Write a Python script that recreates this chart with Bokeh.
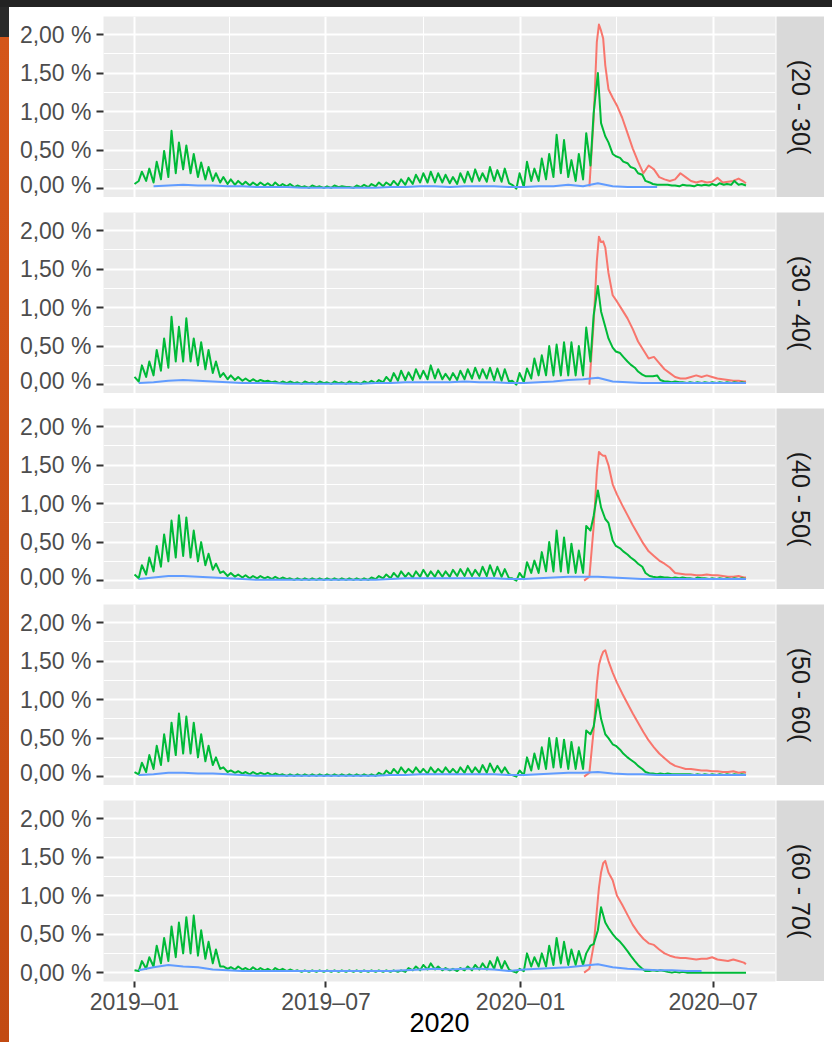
import numpy as np
import pandas as pd
from bokeh.plotting import figure
from bokeh.layouts import column, row
from bokeh.models import FixedTicker, Range1d, Div
from bokeh.embed import file_html
from bokeh.resources import INLINE
from bokeh.core.properties import value

nan = float("nan")

# ---------------- data ----------------
strip_labels = ["(20 - 30(", "(30 - 40(", "(40 - 50(", "(50 - 60(", "(60 - 70("]

y_ticks = [0.0, 0.5, 1.0, 1.5, 2.0]
y_tick_labels = ["0,00 %", "0,50 %", "1,00 %", "1,50 %", "2,00 %"]
y_minor = [0.25, 0.75, 1.25, 1.75]

x_tick_dates = ["2019-01-01", "2019-07-01", "2020-01-01", "2020-07-01"]
x_tick_labels = ["2019\u201301", "2019\u201307", "2020\u201301", "2020\u201307"]
x_minor_dates = ["2019-04-01", "2019-10-01", "2020-04-01"]
x_title = "2020"

# green series: weekly high (start of week) and low (4 days later), 83 weeks from 2019-01-01
green_week_start = "2019-01-01"
green_hi_20_30 = [0.06, 0.22, 0.26, 0.35, 0.49, 0.75, 0.60, 0.56, 0.45, 0.34,
                  0.28, 0.20, 0.15, 0.12, 0.10, 0.09, 0.08, 0.08, 0.07, 0.08,
                  0.06, 0.06, 0.04, 0.03, 0.04, 0.03, 0.03, 0.04, 0.03, 0.02,
                  0.04, 0.05, 0.06, 0.08, 0.08, 0.10, 0.12, 0.14, 0.18, 0.20,
                  0.22, 0.20, 0.18, 0.15, 0.20, 0.22, 0.25, 0.20, 0.28, 0.24,
                  0.26, 0.05, 0.20, 0.35, 0.26, 0.39, 0.45, 0.70, 0.63, 0.37,
                  0.45, 0.72, 0.98, 0.85, 0.60, 0.42, 0.35, 0.28, 0.20, 0.10,
                  0.06, 0.05, 0.05, 0.04, 0.05, 0.04, 0.05, 0.05, 0.06, 0.07,
                  0.06, 0.10, 0.06]
green_lo_20_30 = [0.10, 0.10, 0.08, 0.12, 0.15, 0.20, 0.25, 0.20, 0.15, 0.12,
                  0.10, 0.08, 0.06, 0.05, 0.05, 0.04, 0.04, 0.04, 0.03, 0.03,
                  0.03, 0.02, 0.02, 0.01, 0.02, 0.01, 0.01, 0.02, 0.02, 0.01,
                  0.02, 0.02, 0.03, 0.03, 0.04, 0.04, 0.05, 0.06, 0.08, 0.08,
                  0.08, 0.08, 0.07, 0.06, 0.08, 0.09, 0.10, 0.09, 0.10, 0.09,
                  0.07, 0.00, 0.02, 0.10, 0.10, 0.12, 0.15, 0.20, 0.15, 0.10,
                  0.12, 0.30, 1.50, 0.68, 0.45, 0.40, 0.33, 0.26, 0.18, 0.08,
                  0.05, 0.05, 0.04, 0.03, 0.04, 0.03, 0.04, 0.04, 0.04, 0.05,
                  0.05, 0.05, 0.04]
green_hi_30_40 = [0.10, 0.25, 0.30, 0.45, 0.60, 0.88, 0.75, 0.86, 0.60, 0.55,
                  0.45, 0.30, 0.15, 0.12, 0.10, 0.08, 0.07, 0.06, 0.05, 0.04,
                  0.04, 0.04, 0.03, 0.04, 0.03, 0.04, 0.03, 0.04, 0.03, 0.04,
                  0.03, 0.04, 0.05, 0.06, 0.10, 0.15, 0.18, 0.16, 0.20, 0.18,
                  0.25, 0.20, 0.14, 0.15, 0.18, 0.20, 0.22, 0.20, 0.22, 0.21,
                  0.20, 0.05, 0.15, 0.21, 0.34, 0.38, 0.50, 0.52, 0.55, 0.55,
                  0.50, 0.74, 0.90, 0.95, 0.60, 0.43, 0.36, 0.26, 0.17, 0.11,
                  0.11, 0.06, 0.04, 0.04, 0.03, 0.03, 0.03, 0.03, 0.03, 0.03,
                  0.03, 0.03, 0.03]
green_lo_30_40 = [0.04, 0.10, 0.12, 0.18, 0.22, 0.30, 0.30, 0.30, 0.25, 0.20,
                  0.15, 0.10, 0.07, 0.06, 0.05, 0.04, 0.04, 0.04, 0.03, 0.02,
                  0.02, 0.02, 0.01, 0.02, 0.01, 0.02, 0.01, 0.02, 0.01, 0.02,
                  0.01, 0.02, 0.02, 0.03, 0.04, 0.05, 0.06, 0.06, 0.08, 0.07,
                  0.08, 0.07, 0.06, 0.06, 0.07, 0.08, 0.08, 0.08, 0.06, 0.05,
                  0.04, 0.00, 0.03, 0.08, 0.12, 0.12, 0.12, 0.12, 0.12, 0.12,
                  0.12, 0.30, 1.28, 0.75, 0.48, 0.41, 0.30, 0.22, 0.13, 0.11,
                  0.12, 0.04, 0.03, 0.03, 0.02, 0.02, 0.02, 0.02, 0.02, 0.02,
                  0.02, 0.02, 0.02]
green_hi_40_50 = [0.08, 0.20, 0.30, 0.45, 0.60, 0.78, 0.85, 0.82, 0.65, 0.50,
                  0.35, 0.22, 0.12, 0.10, 0.08, 0.07, 0.06, 0.06, 0.05, 0.05,
                  0.04, 0.03, 0.03, 0.03, 0.03, 0.03, 0.03, 0.03, 0.03, 0.03,
                  0.03, 0.03, 0.04, 0.06, 0.08, 0.10, 0.12, 0.10, 0.12, 0.14,
                  0.12, 0.13, 0.12, 0.14, 0.15, 0.16, 0.14, 0.18, 0.20, 0.18,
                  0.15, 0.03, 0.10, 0.24, 0.26, 0.37, 0.50, 0.65, 0.56, 0.48,
                  0.39, 0.71, 0.84, 0.95, 0.75, 0.45, 0.38, 0.30, 0.22, 0.10,
                  0.05, 0.05, 0.04, 0.04, 0.04, 0.03, 0.04, 0.03, 0.03, 0.03,
                  0.03, 0.03, 0.03]
green_lo_40_50 = [0.03, 0.08, 0.12, 0.18, 0.25, 0.30, 0.32, 0.30, 0.25, 0.20,
                  0.14, 0.10, 0.06, 0.05, 0.04, 0.03, 0.03, 0.03, 0.02, 0.02,
                  0.02, 0.01, 0.01, 0.01, 0.01, 0.01, 0.01, 0.01, 0.01, 0.01,
                  0.01, 0.01, 0.02, 0.03, 0.03, 0.04, 0.05, 0.04, 0.05, 0.05,
                  0.05, 0.05, 0.05, 0.06, 0.06, 0.06, 0.06, 0.06, 0.06, 0.05,
                  0.03, 0.00, 0.02, 0.10, 0.10, 0.12, 0.12, 0.12, 0.10, 0.10,
                  0.10, 0.65, 1.17, 0.80, 0.52, 0.42, 0.34, 0.26, 0.18, 0.06,
                  0.04, 0.04, 0.03, 0.03, 0.03, 0.02, 0.03, 0.02, 0.02, 0.02,
                  0.02, 0.02, 0.02]
green_hi_50_60 = [0.06, 0.18, 0.28, 0.40, 0.55, 0.70, 0.82, 0.78, 0.70, 0.55,
                  0.40, 0.25, 0.12, 0.08, 0.07, 0.06, 0.06, 0.05, 0.05, 0.04,
                  0.03, 0.03, 0.03, 0.03, 0.03, 0.03, 0.03, 0.03, 0.03, 0.03,
                  0.03, 0.03, 0.03, 0.05, 0.08, 0.10, 0.12, 0.10, 0.12, 0.10,
                  0.12, 0.10, 0.12, 0.10, 0.12, 0.14, 0.12, 0.15, 0.17, 0.14,
                  0.12, 0.02, 0.08, 0.25, 0.30, 0.38, 0.50, 0.50, 0.48, 0.45,
                  0.38, 0.60, 0.65, 0.75, 0.50, 0.40, 0.30, 0.22, 0.14, 0.06,
                  0.04, 0.04, 0.04, 0.03, 0.03, 0.03, 0.03, 0.03, 0.03, 0.03,
                  0.03, 0.03, 0.03]
green_lo_50_60 = [0.03, 0.06, 0.10, 0.15, 0.20, 0.28, 0.30, 0.30, 0.25, 0.20,
                  0.15, 0.10, 0.06, 0.05, 0.04, 0.03, 0.03, 0.03, 0.02, 0.02,
                  0.01, 0.01, 0.01, 0.01, 0.01, 0.01, 0.01, 0.01, 0.01, 0.01,
                  0.01, 0.01, 0.01, 0.02, 0.03, 0.04, 0.05, 0.05, 0.05, 0.04,
                  0.05, 0.05, 0.05, 0.04, 0.05, 0.05, 0.05, 0.05, 0.06, 0.05,
                  0.03, 0.00, 0.02, 0.08, 0.10, 0.10, 0.12, 0.12, 0.10, 0.10,
                  0.10, 0.55, 1.00, 0.55, 0.42, 0.35, 0.25, 0.18, 0.10, 0.04,
                  0.03, 0.03, 0.03, 0.03, 0.03, 0.02, 0.02, 0.02, 0.02, 0.02,
                  0.02, 0.02, 0.02]
green_hi_60_70 = [0.03, 0.15, 0.20, 0.35, 0.45, 0.60, 0.65, 0.72, 0.74, 0.55,
                  0.40, 0.30, 0.08, 0.07, 0.08, 0.06, 0.07, 0.06, 0.05, 0.06,
                  0.05, 0.04, 0.03, 0.03, 0.03, 0.03, 0.03, 0.03, 0.03, 0.03,
                  0.03, 0.03, 0.03, 0.03, 0.03, 0.03, 0.03, 0.06, 0.08, 0.10,
                  0.12, 0.08, 0.06, 0.05, 0.06, 0.08, 0.10, 0.12, 0.15, 0.20,
                  0.15, 0.02, 0.05, 0.25, 0.20, 0.25, 0.35, 0.45, 0.40, 0.30,
                  0.28, 0.25, 0.37, 0.85, 0.58, 0.45, 0.35, 0.22, 0.10, 0.02,
                  0.03, 0.03, 0.01, 0.01, 0.01, 0.00, 0.00, 0.00, 0.00, 0.00,
                  0.00, 0.00, 0.00]
green_lo_60_70 = [0.02, 0.05, 0.08, 0.12, 0.15, 0.20, 0.25, 0.25, 0.22, 0.18,
                  0.12, 0.08, 0.05, 0.04, 0.04, 0.03, 0.03, 0.03, 0.02, 0.03,
                  0.02, 0.02, 0.01, 0.01, 0.01, 0.01, 0.01, 0.01, 0.01, 0.01,
                  0.01, 0.01, 0.01, 0.01, 0.01, 0.01, 0.01, 0.03, 0.03, 0.04,
                  0.04, 0.03, 0.03, 0.02, 0.03, 0.03, 0.04, 0.04, 0.05, 0.05,
                  0.04, 0.00, 0.02, 0.08, 0.08, 0.08, 0.10, 0.12, 0.10, 0.10,
                  0.10, 0.35, 0.55, 0.65, 0.50, 0.40, 0.28, 0.15, 0.05, 0.02,
                  0.02, 0.02, 0.00, 0.00, 0.00, 0.00, 0.00, 0.00, 0.00, 0.00,
                  0.00, 0.00, 0.00]

# red series (2020 only)
red_dates = ["2020-03-01", "2020-03-06", "2020-03-10", "2020-03-13", "2020-03-15",
             "2020-03-17", "2020-03-19", "2020-03-21", "2020-03-24", "2020-03-28",
             "2020-04-01", "2020-04-06", "2020-04-11", "2020-04-16", "2020-04-21",
             "2020-04-26", "2020-05-01", "2020-05-06", "2020-05-11", "2020-05-16",
             "2020-05-21", "2020-05-26", "2020-05-31", "2020-06-05", "2020-06-10",
             "2020-06-15", "2020-06-20", "2020-06-25", "2020-06-30", "2020-07-05",
             "2020-07-10", "2020-07-15", "2020-07-20", "2020-07-25", "2020-07-30",
             "2020-08-01"]
red_20_30 = [nan, 0.03, 0.90, 1.90, 2.13, 2.05, 1.95, 1.60, 1.29, 1.18,
             1.08, 0.92, 0.72, 0.52, 0.35, 0.20, 0.30, 0.25, 0.15, 0.12,
             0.10, 0.12, 0.20, 0.15, 0.10, 0.08, 0.10, 0.08, 0.09, 0.14,
             0.08, 0.09, 0.10, 0.13, 0.09, 0.07]
red_30_40 = [nan, 0.00, 0.80, 1.60, 1.92, 1.85, 1.86, 1.78, 1.45, 1.16,
             1.08, 0.97, 0.86, 0.72, 0.56, 0.45, 0.34, 0.36, 0.28, 0.20,
             0.15, 0.10, 0.08, 0.08, 0.10, 0.12, 0.10, 0.12, 0.10, 0.08,
             0.07, 0.06, 0.05, 0.05, 0.04, 0.04]
red_40_50 = [0.00, 0.05, 0.70, 1.40, 1.67, 1.64, 1.62, 1.62, 1.50, 1.25,
             1.12, 0.98, 0.85, 0.72, 0.60, 0.48, 0.38, 0.32, 0.26, 0.22,
             0.17, 0.10, 0.09, 0.08, 0.08, 0.07, 0.07, 0.08, 0.07, 0.07,
             0.06, 0.05, 0.05, 0.06, 0.04, 0.04]
red_50_60 = [0.00, 0.05, 0.60, 1.20, 1.45, 1.55, 1.62, 1.64, 1.50, 1.35,
             1.22, 1.08, 0.95, 0.82, 0.70, 0.58, 0.47, 0.38, 0.30, 0.24,
             0.18, 0.14, 0.12, 0.10, 0.10, 0.09, 0.08, 0.08, 0.07, 0.07,
             0.06, 0.06, 0.07, 0.05, 0.06, 0.05]
red_60_70 = [0.00, 0.05, 0.35, 0.80, 1.10, 1.30, 1.42, 1.45, 1.30, 1.20,
             1.00, 0.88, 0.75, 0.62, 0.52, 0.44, 0.38, 0.36, 0.30, 0.25,
             0.22, 0.20, 0.19, 0.19, 0.18, 0.17, 0.18, 0.18, 0.20, 0.17,
             0.16, 0.15, 0.17, 0.15, 0.13, 0.11]

# blue series: every 14 days from 2019-01-05 (42 points)
blue_start = "2019-01-05"
blue_20_30 = [nan, 0.03, 0.04, 0.05, 0.04, 0.04, 0.03, 0.03, 0.02, 0.02,
              0.02, 0.01, 0.01, 0.01, 0.01, 0.01, 0.01, 0.02, 0.02, 0.03,
              0.03, 0.02, 0.03, 0.03, 0.03, 0.02, 0.02, 0.03, 0.03, 0.05,
              0.03, 0.07, 0.03, 0.02, 0.02, 0.02, nan, nan, nan, nan,
              nan, nan]
blue_30_40 = [0.02, 0.03, 0.05, 0.06, 0.05, 0.04, 0.03, 0.02, 0.02, 0.02,
              0.01, 0.01, 0.01, 0.01, 0.01, 0.01, 0.02, 0.02, 0.03, 0.03,
              0.03, 0.03, 0.04, 0.03, 0.03, 0.02, 0.02, 0.03, 0.04, 0.06,
              0.07, 0.09, 0.04, 0.03, 0.02, 0.02, 0.02, 0.02, 0.02, 0.02,
              0.02, 0.02]
blue_40_50 = [0.02, 0.04, 0.06, 0.06, 0.05, 0.04, 0.03, 0.02, 0.01, 0.01,
              0.01, 0.01, 0.01, 0.01, 0.01, 0.01, 0.01, 0.02, 0.03, 0.03,
              0.03, 0.03, 0.03, 0.03, 0.03, 0.02, 0.02, 0.03, 0.04, 0.05,
              0.05, 0.05, 0.04, 0.03, 0.02, 0.02, 0.02, 0.02, 0.02, 0.02,
              0.02, 0.02]
blue_50_60 = [0.02, 0.03, 0.05, 0.05, 0.04, 0.04, 0.03, 0.02, 0.01, 0.01,
              0.01, 0.01, 0.01, 0.01, 0.01, 0.01, 0.01, 0.02, 0.02, 0.03,
              0.03, 0.03, 0.03, 0.03, 0.03, 0.02, 0.02, 0.03, 0.04, 0.05,
              0.05, 0.06, 0.04, 0.03, 0.03, 0.02, 0.02, 0.02, 0.02, 0.02,
              0.02, 0.02]
blue_60_70 = [0.03, 0.07, 0.10, 0.08, 0.07, 0.04, 0.03, 0.02, 0.02, 0.02,
              0.02, 0.02, 0.02, 0.02, 0.02, 0.02, 0.02, 0.02, 0.03, 0.04,
              0.05, 0.04, 0.05, 0.05, 0.04, 0.02, 0.04, 0.05, 0.06, 0.07,
              0.09, 0.11, 0.07, 0.05, 0.04, 0.03, 0.03, 0.02, 0.02, nan,
              nan, nan]

green_hi = [green_hi_20_30, green_hi_30_40, green_hi_40_50, green_hi_50_60, green_hi_60_70]
green_lo = [green_lo_20_30, green_lo_30_40, green_lo_40_50, green_lo_50_60, green_lo_60_70]
red_vals = [red_20_30, red_30_40, red_40_50, red_50_60, red_60_70]
blue_vals = [blue_20_30, blue_30_40, blue_40_50, blue_50_60, blue_60_70]

# ---------------- styling ----------------
RED, GREEN, BLUE = "#F8766D", "#00BA38", "#619CFF"
PANEL_BG, STRIP_BG = "#EBEBEB", "#D9D9D9"
FONT = "Liberation Sans"


def ms(d):
    return pd.Timestamp(d).value // 10**6


x0 = pd.Timestamp("2019-01-01")
x_range = Range1d(start=(x0 - pd.Timedelta(days=29.3)).value / 1e6,
                  end=(x0 + pd.Timedelta(days=605.9)).value / 1e6)
y_range = Range1d(start=-0.115, end=2.234)

major_ms = [ms(d) for d in x_tick_dates]
minor_ms = [ms(d) for d in x_minor_dates]

n_weeks = len(green_hi_20_30)
week_starts = pd.date_range(green_week_start, periods=n_weeks, freq="7D")
green_x = np.empty(2 * n_weeks, dtype="datetime64[ns]")
green_x[0::2] = week_starts.values
green_x[1::2] = (week_starts + pd.Timedelta(days=4)).values

red_x = pd.to_datetime(red_dates)
blue_x = pd.date_range(blue_start, periods=len(blue_20_30), freq="14D")

FRAME_W, FRAME_H = 672, 181
rows = []
n = len(strip_labels)
for i in range(n):
    top = 9 if i == 0 else 15
    last = i == n - 1
    p = figure(x_axis_type="datetime", x_range=x_range, y_range=y_range,
               frame_width=FRAME_W, frame_height=FRAME_H,
               output_backend="svg", toolbar_location=None,
               min_border_left=94, min_border_right=1,
               min_border_top=top, min_border_bottom=(60 if last else 0))
    p.background_fill_color = PANEL_BG
    p.border_fill_color = "white"
    p.outline_line_color = None

    # grids
    p.xgrid.ticker = FixedTicker(ticks=major_ms, minor_ticks=minor_ms)
    p.ygrid.ticker = FixedTicker(ticks=y_ticks, minor_ticks=y_minor)
    for g in (p.xgrid, p.ygrid):
        g.grid_line_color = "white"
        g.grid_line_width = 2
        g.minor_grid_line_color = "white"
        g.minor_grid_line_width = 1

    # y axis
    ya = p.yaxis[0]
    ya.ticker = FixedTicker(ticks=y_ticks)
    ya.major_label_overrides = dict(zip(y_ticks, y_tick_labels))
    ya.axis_line_color = None
    ya.major_tick_line_color = "#333333"
    ya.major_tick_line_width = 2
    ya.major_tick_out = 7
    ya.major_tick_in = 0
    ya.minor_tick_line_color = None
    ya.major_label_text_font = FONT
    ya.major_label_text_font_size = "23px"
    ya.major_label_text_color = "#4D4D4D"
    ya.major_label_standoff = 5

    # x axis
    xa = p.xaxis[0]
    if last:
        xa.ticker = FixedTicker(ticks=major_ms)
        xa.major_label_overrides = dict(zip(major_ms, x_tick_labels))
        xa.axis_line_color = None
        xa.major_tick_line_color = "#333333"
        xa.major_tick_line_width = 2
        xa.major_tick_out = 6
        xa.major_tick_in = 0
        xa.minor_tick_line_color = None
        xa.major_label_text_font = FONT
        xa.major_label_text_font_size = "23px"
        xa.major_label_text_color = "#4D4D4D"
        xa.major_label_standoff = 1
        xa.axis_label = x_title
        xa.axis_label_text_font = FONT
        xa.axis_label_text_font_size = "27px"
        xa.axis_label_text_font_style = "normal"
        xa.axis_label_text_color = "black"
        xa.axis_label_standoff = -5
    else:
        xa.visible = False

    gy = np.empty(2 * n_weeks)
    gy[0::2] = green_hi[i]
    gy[1::2] = green_lo[i]

    p.line(x=red_x, y=red_vals[i], line_color=RED, line_width=2, line_join="round")
    p.line(x=green_x, y=gy, line_color=GREEN, line_width=2, line_join="round")
    p.line(x=blue_x, y=blue_vals[i], line_color=BLUE, line_width=2, line_join="round")

    s = figure(frame_width=48, frame_height=FRAME_H, x_range=(0, 1), y_range=(0, 1),
               x_axis_location=None, y_axis_location=None,
               output_backend="svg", toolbar_location=None,
               min_border_left=0, min_border_right=0,
               min_border_top=top, min_border_bottom=0, align="start")
    s.background_fill_color = STRIP_BG
    s.border_fill_color = "white"
    s.outline_line_color = None
    s.grid.visible = False
    s.text(x=[0.5], y=[0.5], text=[strip_labels[i]], angle=-np.pi / 2,
           text_align="center", text_baseline="middle",
           text_font=value(FONT), text_font_size="25px", text_color="#1A1A1A")

    rows.append(row(p, s, spacing=0))

panels = column(*rows, spacing=0)

# page frame of the original screenshot (dark top band, orange left edge)
top_band = Div(text="", width=832, height=7, margin=0,
               styles={"background-color": "#232323"})
left_edge = Div(text="", width=9, height=1035, margin=0,
                styles={"background": "linear-gradient(to bottom, #2a2a2a 0px, #2a2a2a 30px, #d4561a 30px, #c24a12 100%)"})
layout = column(top_band, row(left_edge, panels, spacing=0), spacing=0)

open("out.html", "w").write(file_html(layout, INLINE, title="chart"))
